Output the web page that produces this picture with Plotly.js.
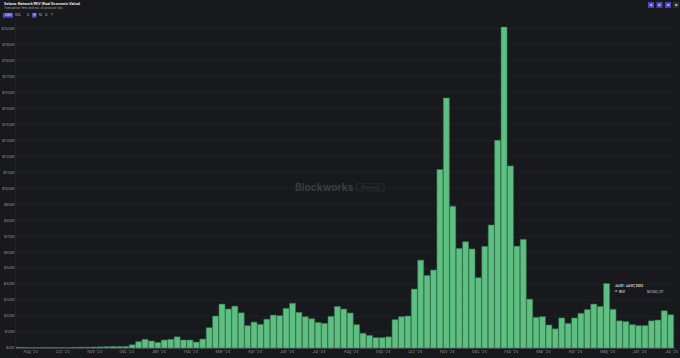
<!DOCTYPE html>
<html><head><meta charset="utf-8">
<script src="https://cdn.plot.ly/plotly-3.0.1.min.js"></script>
<style>html,body{margin:0;padding:0;background:#18191d;overflow:hidden}#c{width:680px;height:358px}</style>
</head><body><div id="c"></div>
<script>
const titleText = "Solana: Network REV (Real Economic Value)";
const subtitleText = "Transaction fees and out-of-protocol tips";
const firstWeek = "2023-07-31";
const revenueMillions = [
0.5,0.4,0.3,0.3,0.3,0.3,0.3,0.3,0.3,0.4,0.5,0.5,0.6,0.7,0.8,1.0,0.9,1.0,
2,4,5.4,4.4,3.5,5,5.4,7,5,5,3.7,5.6,12.7,20,27.5,24.4,26.2,22,14,16.2,14.8,18,20.6,20.2,24.8,28,22.3,19.6,18.3,16,15.4,19.8,26,24.4,21.9,14.6,9.2,7.9,6.5,6.5,7,17.7,19.6,20,36.9,55,45.4,48.8,111.7,156.5,88.8,62.3,66.5,62,44,63.6,77,130,200.9,114,63.7,68,
30.6,19.2,19.6,14.4,12,18.8,15.4,18.8,21.7,24,27.5,26,40.4,24.2,17,16.5,14.6,14,14,17,17.5,23.3,20.8];
const DAY = 864e5;
const weeks = revenueMillions.map((_, i) => new Date(Date.parse(firstWeek) + i * 7 * DAY).toISOString().slice(0,10));
const tickLabels = ["Aug '23","Oct '23","Nov '23","Dec '23","Jan '24","Feb '24","Mar '24","Apr '24","Jun '24","Jul '24","Aug '24","Sep '24","Oct '24","Nov '24","Dec '24","Feb '25","Mar '25","Apr '25","May '25","Jun '25","Jul '25"];
const tickStep = 5;
const n = revenueMillions.length;
const lastMs = Date.parse(weeks[n-1]);
const tickWeeks = tickLabels.map((_, i) => new Date(lastMs + DAY - (tickLabels.length - 1 - i) * tickStep * 7 * DAY).toISOString().slice(0,10));
const yTicks = Array.from({length:21},(_,i)=>i*10);
const yLabels = yTicks.map(v=>"$"+v+"M");
const W=680,H=358,m={l:16,r:5,t:22,b:9.5};
const pxPerDay=6.41/7, xEnd=lastMs+(675-670.7)/pxPerDay*DAY, xStart=xEnd-659/pxPerDay*DAY;
const px=x=>(x-m.l)/(W-m.l-m.r), py=y=>1-(y-m.t)/(H-m.t-m.b);
const font="Inter, 'Noto Sans', sans-serif";
const anns=[],shapes=[];
function t(x,y,text,size,color,anchor,weight){anns.push({xref:'paper',yref:'paper',x:px(x),y:py(y),text:weight?`<b>${text}</b>`:text,showarrow:false,xanchor:anchor||'left',yanchor:'middle',font:{size,color,family:font},borderpad:0,borderwidth:0});}
function r(x0,y0,x1,y1,fill,line){shapes.push({type:'rect',xref:'paper',yref:'paper',x0:px(x0),x1:px(x1),y0:py(y0),y1:py(y1),fillcolor:fill,line:{width:line?0.7:0,color:line||fill},layer:'above'});}
t(3.5,3.6,titleText,3.55,'#e8e8ea','left',true);
t(3.5,7.6,subtitleText,3,'#a4a4a8');
r(3,13,13,17.7,'#4a4bc4'); t(8,15.4,'USD',3.1,'#e6e6ff','center');
t(18,15.4,'SOL',3.1,'#bbbbbb','center');
r(32,13,36.5,17.7,'#4a4bc4');
t(28.3,15.4,'D',3.1,'#bbbbbb','center');t(34.2,15.4,'W',3.1,'#e6e6ff','center');t(40.5,15.4,'M',3.1,'#bbbbbb','center');t(46.8,15.4,'Q',3.1,'#bbbbbb','center');t(52.5,15.4,'Y',3.1,'#bbbbbb','center');
[[648,'#4a4bc4'],[656.5,'#4a4bc4'],[665,'#4a4bc4'],[673,'#2f2f36']].forEach(b=>{r(b[0],2,b[0]+6,7.8,b[1]);t(b[0]+3,4.9,'●',2.6,'#c9c9f2','center');});
t(295,187,'Blockworks',10.2,'#3b3c41','left',true);
r(356.5,184,384,191,'rgba(0,0,0,0)','#303136');
t(370.2,187.5,'Research',4.2,'#3b3c41','center');
t(615,286.7,'Jul 01 - Jul 07, 2025',2.9,'#e4e4e6','left',true);
t(615,292.4,'●',2.4,'#5dbb80');
t(619,292.4,'REV',2.9,'#d8d8da','left',true);
t(664,292.4,'$21,852,417',2.9,'#d8d8da','right');
Plotly.newPlot('c',[{type:'bar',x:weeks,y:revenueMillions,marker:{color:'#5fbf82',line:{color:'#2f7a4c',width:0.6}},width:6.0/pxPerDay*DAY,hoverinfo:'skip'}],{
width:W,height:H,margin:m,paper_bgcolor:'#18191d',plot_bgcolor:'#18191d',showlegend:false,
xaxis:{type:'date',range:[new Date(xStart).toISOString(),new Date(xEnd).toISOString()],tickmode:'array',tickvals:tickWeeks,ticktext:tickLabels,tickangle:0,tickfont:{size:4,color:'#8a8a8e',family:font},showgrid:false,ticks:'',zeroline:false,showline:false,automargin:false,ticklen:0},
yaxis:{range:[0,204.06],tickmode:'array',tickvals:yTicks,ticktext:yLabels,tickfont:{size:3.9,color:'#8a8a8e',family:font},gridcolor:'rgba(255,255,255,0.045)',gridwidth:0.7,zeroline:true,zerolinecolor:'#55565a',zerolinewidth:0.7,showline:true,linecolor:'rgba(255,255,255,0.06)',linewidth:0.7,ticks:'',automargin:false},
annotations:anns,shapes:shapes
},{staticPlot:true,displayModeBar:false});
</script></body></html>
